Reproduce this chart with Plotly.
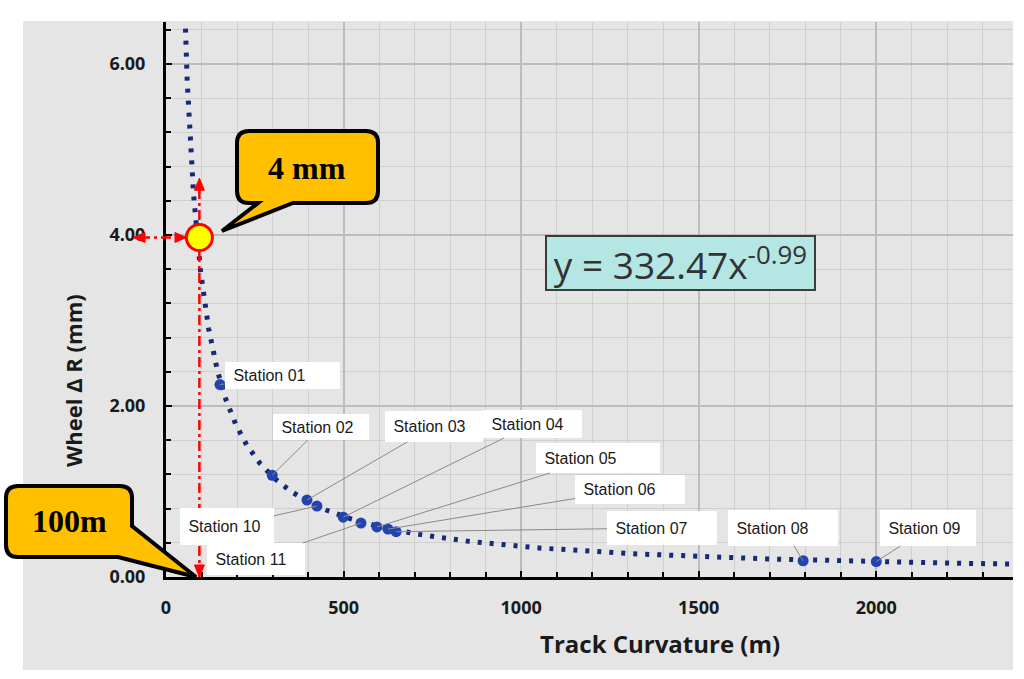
import numpy as np
import plotly.graph_objects as go

# ---------------- data ----------------
STATION_NAMES = ["Station 01", "Station 02", "Station 03", "Station 04", "Station 05",
                 "Station 06", "Station 07", "Station 08", "Station 09", "Station 10", "Station 11"]
STATION_X = [152, 299, 397, 499, 594, 625, 648, 1794, 2000, 425, 549]
STATION_Y = [2.25, 1.19, 0.90, 0.70, 0.585, 0.56, 0.53, 0.19, 0.18, 0.83, 0.63]

# power trendline shown on the chart: y = 332.47 x^-0.99
TREND_COEF = 332.47
TREND_EXP = -0.99
TREND_X_START = 45
TREND_X_END = 2400

X_TICK_STEP = 500
X_MINOR_STEP = 100
Y_TICK_STEP = 2
Y_MINOR_STEP = 0.4

HIGHLIGHT_X = 94      # m
HIGHLIGHT_Y = 3.97    # mm
ARROW_TOP_Y = 4.64

EQUATION = "y = 332.47x<sup>-0.99</sup>"
X_TITLE = "Track Curvature (m)"
Y_TITLE = "Wheel Δ R (mm)"
CALLOUT_Y_TEXT = "4 mm"
CALLOUT_X_TEXT = "100m"

# label boxes (left, top, right, bottom) in page pixels
LABEL_BOXES = [
    (225, 362, 340, 389),
    (273, 414, 369, 440),
    (385, 411, 483, 442),
    (483, 410, 582, 438),
    (536, 443, 660, 473),
    (575, 475, 685, 504),
    (607, 511, 717, 545),
    (728, 510, 838, 546),
    (880, 510, 976, 546),
    (180, 508, 274, 545),
    (207, 543, 305, 575),
]

# ---------------- geometry ----------------
W, H = 1024, 679
L, R, T, B = 166, 11, 22, 102
PW, PH = W - L - R, H - T - B
X_RANGE = [0, 2385]
Y_RANGE = [0, 6.49]


def xpix(x):
    return L + (x - X_RANGE[0]) / (X_RANGE[1] - X_RANGE[0]) * PW


def ypix(y):
    return T + (Y_RANGE[1] - y) / (Y_RANGE[1] - Y_RANGE[0]) * PH


def pxp(xp):
    return (xp - L) / PW


def pyp(yp):
    return (T + PH - yp) / PH


def path_from(cmds):
    out = []
    for c in cmds:
        op = c[0]
        if op == "Z":
            out.append("Z")
            continue
        pts = c[1:]
        coords = " ".join(f"{pxp(pts[i]):.5f},{pyp(pts[i+1]):.5f}" for i in range(0, len(pts), 2))
        out.append(f"{op} {coords}")
    return " ".join(out)


fig = go.Figure()

tx = np.geomspace(TREND_X_START, TREND_X_END, 800)
ty = TREND_COEF * tx ** TREND_EXP
fig.add_trace(go.Scatter(x=tx, y=ty, mode="lines",
                         line=dict(color="#172a74", width=5, dash="4px,8px"),
                         hoverinfo="skip", showlegend=False))
fig.add_trace(go.Scatter(x=STATION_X, y=STATION_Y, mode="markers",
                         marker=dict(color="#2344b0", size=11),
                         hoverinfo="skip", showlegend=False))

shapes = []
# grey chart-area background
shapes.append(dict(type="rect", xref="paper", yref="paper",
                   x0=pxp(23), x1=pxp(1013), y0=pyp(670), y1=pyp(21),
                   fillcolor="#e5e5e5", line=dict(width=0), layer="below"))
RED = "#ff0000"
RED_DASH = "10px,4px,3px,4px"
shapes.append(dict(type="line", xref="x", yref="y", x0=HIGHLIGHT_X, x1=HIGHLIGHT_X,
                   y0=0, y1=ARROW_TOP_Y, line=dict(color=RED, width=2.5, dash=RED_DASH),
                   layer="above"))
shapes.append(dict(type="line", xref="paper", yref="y", x0=pxp(140), x1=pxp(xpix(HIGHLIGHT_X)),
                   y0=HIGHLIGHT_Y, y1=HIGHLIGHT_Y,
                   line=dict(color=RED, width=2.5, dash=RED_DASH), layer="above"))

# arrowheads (small triangles)
hx, hy_top, hy_mid, hy_bot = xpix(HIGHLIGHT_X), ypix(ARROW_TOP_Y), ypix(HIGHLIGHT_Y), ypix(0)
tri = [
    [(hx, hy_top - 2), (hx - 5, hy_top + 10), (hx + 5, hy_top + 10)],
    [(hx, hy_bot), (hx - 5, hy_bot - 12), (hx + 5, hy_bot - 12)],
    [(133, hy_mid), (145, hy_mid - 5), (145, hy_mid + 5)],
    [(186, hy_mid), (175, hy_mid - 5), (175, hy_mid + 5)],
]
for pts in tri:
    cmds = [("M",) + pts[0], ("L",) + pts[1], ("L",) + pts[2], ("Z",)]
    shapes.append(dict(type="path", xref="paper", yref="paper", path=path_from(cmds),
                       fillcolor=RED, line=dict(color=RED, width=1), layer="above"))

shapes.append(dict(type="circle", xref="x", yref="y", xsizemode="pixel", ysizemode="pixel",
                   xanchor=HIGHLIGHT_X, yanchor=HIGHLIGHT_Y, x0=-13, x1=13, y0=-13, y1=13,
                   fillcolor="#ffff00", line=dict(color=RED, width=3), layer="above"))

# callout "4 mm"
r = 12
l_, t_, r_, b_ = 237, 131, 378, 203
p1 = path_from([
    ("M", l_ + r, t_), ("L", r_ - r, t_), ("Q", r_, t_, r_, t_ + r),
    ("L", r_, b_ - r), ("Q", r_, b_, r_ - r, b_),
    ("L", 293, b_), ("L", 222, 231), ("L", 258, b_),
    ("L", l_ + r, b_), ("Q", l_, b_, l_, b_ - r),
    ("L", l_, t_ + r), ("Q", l_, t_, l_ + r, t_), ("Z",)])
shapes.append(dict(type="path", xref="paper", yref="paper", path=p1,
                   fillcolor="#ffc000", line=dict(color="black", width=4), layer="above"))
# callout "100m"
l_, t_, r_, b_ = 6, 486, 132, 557
p2 = path_from([
    ("M", l_ + r, t_), ("L", r_ - r, t_), ("Q", r_, t_, r_, t_ + r),
    ("L", r_, 526), ("L", 196, 577), ("L", 118, b_),
    ("L", l_ + r, b_), ("Q", l_, b_, l_, b_ - r),
    ("L", l_, t_ + r), ("Q", l_, t_, l_ + r, t_), ("Z",)])
shapes.append(dict(type="path", xref="paper", yref="paper", path=p2,
                   fillcolor="#ffc000", line=dict(color="black", width=4), layer="above"))

annotations = []
# station labels with leader lines
PAD = 4
for name, sx, sy, (bl, bt, br, bb) in zip(STATION_NAMES, STATION_X, STATION_Y, LABEL_BOXES):
    cx, cy = (bl + br) / 2, (bt + bb) / 2
    annotations.append(dict(
        x=sx, y=sy, xref="x", yref="y", text="\u00a0" + name, showarrow=True,
        ax=cx - xpix(sx), ay=cy - ypix(sy), arrowhead=0, arrowwidth=1, arrowcolor="#8a8a8a",
        standoff=0, bgcolor="white", borderpad=PAD, borderwidth=0,
        width=(br - bl) - 2 * PAD, height=(bb - bt) - 2 * PAD, align="left", valign="middle",
        font=dict(family="Liberation Sans, Arial", size=16, color="#1a1a1a")))

CENTER = dict(xanchor="center", yanchor="middle", xref="paper", yref="paper", showarrow=False)
# callout texts
annotations.append(dict(x=pxp(307), y=pyp(168), text=CALLOUT_Y_TEXT, **CENTER,
                        font=dict(family="Liberation Serif", size=32, color="black", weight="bold")))
annotations.append(dict(x=pxp(69), y=pyp(521), text=CALLOUT_X_TEXT, **CENTER,
                        font=dict(family="Liberation Serif", size=32, color="black", weight="bold")))
# equation box
annotations.append(dict(x=pxp(680.5), y=pyp(263), text=EQUATION, **CENTER,
                        bgcolor="#b4e6e4", bordercolor="#3c3c3c",
                        borderwidth=2, borderpad=0, width=267, height=52,
                        font=dict(family="Open Sans", size=37, color="#333333")))
# axis titles
annotations.append(dict(x=pxp(660), y=pyp(643), text=X_TITLE, **CENTER,
                        font=dict(family="Open Sans", size=24, color="#1a1a1a", weight="bold")))
annotations.append(dict(x=pxp(73), y=pyp(381), text=Y_TITLE, textangle=-90, **CENTER,
                        font=dict(family="Open Sans", size=22, color="#1a1a1a", weight="bold")))

tickfont = dict(family="Open Sans", size=18, color="#1a1a1a", weight="bold")
fig.update_layout(
    width=W, height=H, margin=dict(l=L, r=R, t=T, b=B, autoexpand=False),
    paper_bgcolor="white", plot_bgcolor="#e5e5e5", showlegend=False,
    shapes=shapes, annotations=annotations, hovermode=False,
    xaxis=dict(range=X_RANGE, tickmode="linear", tick0=0, dtick=X_TICK_STEP,
               ticks="inside", ticklen=6, tickwidth=2, tickcolor="black",
               showline=True, linewidth=3, linecolor="black", zeroline=False,
               showgrid=True, gridcolor="#bcbcbc", gridwidth=1.5,
               minor=dict(tick0=0, dtick=X_MINOR_STEP, ticks="inside", ticklen=5, tickwidth=2,
                          tickcolor="black", showgrid=True, gridcolor="#cfcfcf", gridwidth=1),
               tickfont=tickfont, ticklabelstandoff=12),
    yaxis=dict(range=Y_RANGE, tickmode="linear", tick0=0, dtick=Y_TICK_STEP, tickformat=".2f",
               ticks="inside", ticklen=6, tickwidth=2, tickcolor="black",
               showline=True, linewidth=3, linecolor="black", zeroline=False,
               showgrid=True, gridcolor="#bcbcbc", gridwidth=1.5,
               minor=dict(tick0=0, dtick=Y_MINOR_STEP, ticks="inside", ticklen=5, tickwidth=2,
                          tickcolor="black", showgrid=True, gridcolor="#cfcfcf", gridwidth=1),
               tickfont=tickfont, ticklabelstandoff=14),
)

fig.write_html("out.html", config={"displayModeBar": False},
               post_script="document.body.style.margin='0px';")
